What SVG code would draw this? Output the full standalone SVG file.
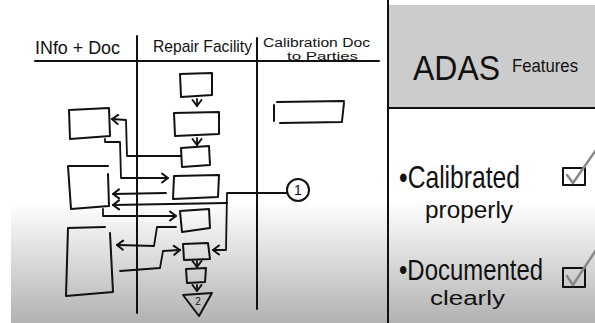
<svg xmlns="http://www.w3.org/2000/svg" width="595" height="323" viewBox="0 0 595 323">
<defs>
<linearGradient id="bg" x1="0" y1="0" x2="0" y2="1">
<stop offset="0" stop-color="#ffffff"/>
<stop offset="0.62" stop-color="#ffffff"/>
<stop offset="1" stop-color="#b2b2b2"/>
</linearGradient>
<marker id="ah" markerUnits="userSpaceOnUse" markerWidth="12" markerHeight="12" viewBox="-8 -6 10 12" refX="0" refY="0" orient="auto">
<path d="M-6,-4.5 L0,0 L-6,4.5" fill="none" stroke="#111" stroke-width="2" stroke-linecap="round" stroke-linejoin="round"/>
</marker>
<style>
.ln{fill:none;stroke:#111;stroke-width:2;stroke-linecap:round;stroke-linejoin:round}
.bx{fill:none;stroke:#111;stroke-width:2;stroke-linejoin:round;stroke-linecap:round}
.cn{fill:none;stroke:#111;stroke-width:1.8;stroke-linecap:round;stroke-linejoin:round;marker-end:url(#ah)}
.t{font-family:"Liberation Sans",Arial,sans-serif;fill:#111}
.chk{fill:none;stroke:#888;stroke-width:2.5;stroke-linecap:round;stroke-linejoin:round}
</style>
</defs>
<rect x="0" y="0" width="595" height="323" fill="#fff"/>
<rect x="11" y="5" width="584" height="318" fill="url(#bg)"/>
<rect x="389" y="5" width="206" height="103" fill="#cccccc"/>

<!-- frame lines -->
<g id="frame">
<line class="ln" x1="388" y1="0" x2="388" y2="323" stroke-width="3"/>
<line class="ln" x1="388" y1="108" x2="595" y2="108" stroke-width="2.5"/>
<line class="ln" x1="35" y1="61" x2="379" y2="61"/>
<line class="ln" x1="137" y1="36" x2="137" y2="313"/>
<line class="ln" x1="257" y1="38" x2="257" y2="309"/>
</g>

<!-- headers -->
<g id="headers">
<text class="t" x="35" y="54" font-size="18" textLength="85" lengthAdjust="spacingAndGlyphs">INfo + Doc</text>
<text class="t" x="153" y="52" font-size="17" textLength="99" lengthAdjust="spacingAndGlyphs">Repair Facility</text>
<text class="t" x="263" y="47" font-size="12.5" textLength="107" lengthAdjust="spacingAndGlyphs">Calibration Doc</text>
<text class="t" x="287" y="60" font-size="11" textLength="71" lengthAdjust="spacingAndGlyphs">to Parties</text>
</g>

<!-- repair facility nodes -->
<g id="rf1"><polygon class="bx" points="180,74 212,73 212,95 181,97"/></g>
<g id="rf2"><polygon class="bx" points="174,113 219,112 219,134 175,136"/></g>
<g id="rf3"><polygon class="bx" points="181,148 209,146 210,165 182,167"/></g>
<g id="rf4"><polygon class="bx" points="174,176 219,175 218,197 173,199"/></g>
<g id="rf5"><polygon class="bx" points="180,211 209,209 210,228 182,232"/></g>
<g id="rf6"><polygon class="bx" points="183,244 208,243 210,259 184,260"/></g>
<g id="rf7"><polygon class="bx" points="186,269 206,268 205,282 187,283"/></g>
<g id="end2">
<polygon class="bx" points="183,295 212,293 199,316"/>
<text class="t" x="198" y="305" font-size="10" text-anchor="middle">2</text>
</g>

<!-- info + doc nodes -->
<g id="info1"><polygon class="bx" points="69,110 109,108 110,136 70,139"/></g>
<g id="info2"><path class="bx" d="M108,166 L68,166 L71,209 L109,206 L108,174"/></g>
<g id="info3"><path class="bx" d="M105,227 L68,228 L66,296 L113,292 L110,233"/></g>

<!-- calibration doc node -->
<g id="cal"><path class="bx" d="M274,105 L274,121 M277,102 L344,101 M344,103 L342,121 M280,123 L342,122"/></g>

<!-- marker 1 -->
<g id="mark1">
<circle class="bx" cx="298" cy="190" r="11"/>
<text class="t" x="298" y="195" font-size="14" text-anchor="middle">1</text>
</g>

<!-- connectors -->
<g id="connectors">
<path class="cn" d="M197,99 L197,106"/>
<path class="cn" d="M197,138 L197,145"/>
<path class="cn" d="M181,156 L127,156 L126,120 L112,119"/>
<path class="cn" d="M105,139 L105,142 L120,142 L121,178 L168,178"/>
<path class="cn" d="M166,193 L113,194"/>
<path class="cn" d="M287,193 L227,193 L226,250 L213,250"/>
<path class="cn" d="M227,203 L113,205"/>
<path class="cn" d="M103,209 L103,216 L176,216"/>
<path class="cn" d="M176,227 L157,227 L154,246 L117,245"/>
<path class="cn" d="M120,271 L160,268 L163,251 L180,250"/>
<path class="cn" d="M197,261 L197,267"/>
<path class="cn" d="M197,285 L197,291"/>
</g>

<!-- right panel -->
<g id="title">
<text class="t" x="413" y="80" font-size="35" textLength="87" lengthAdjust="spacingAndGlyphs">ADAS</text>
<text class="t" x="512" y="72" font-size="19" textLength="66" lengthAdjust="spacingAndGlyphs">Features</text>
</g>
<g id="item1">
<text class="t" x="399" y="188" font-size="32" textLength="121" lengthAdjust="spacingAndGlyphs">•Calibrated</text>
<text class="t" x="425" y="218" font-size="24" textLength="88" lengthAdjust="spacingAndGlyphs">properly</text>
<rect class="bx" x="563" y="168" width="22" height="17" stroke-width="2.5"/>
<path class="chk" d="M567,175 L573,183 L596,150"/>
</g>
<g id="item2">
<text class="t" x="399" y="280" font-size="30" textLength="144" lengthAdjust="spacingAndGlyphs">•Documented</text>
<text class="t" x="430" y="305" font-size="20" textLength="75" lengthAdjust="spacingAndGlyphs">clearly</text>
<rect class="bx" x="563" y="268" width="22" height="19" stroke-width="2.5"/>
<path class="chk" d="M567,276 L573,285 L596,250"/>
</g>
</svg>
